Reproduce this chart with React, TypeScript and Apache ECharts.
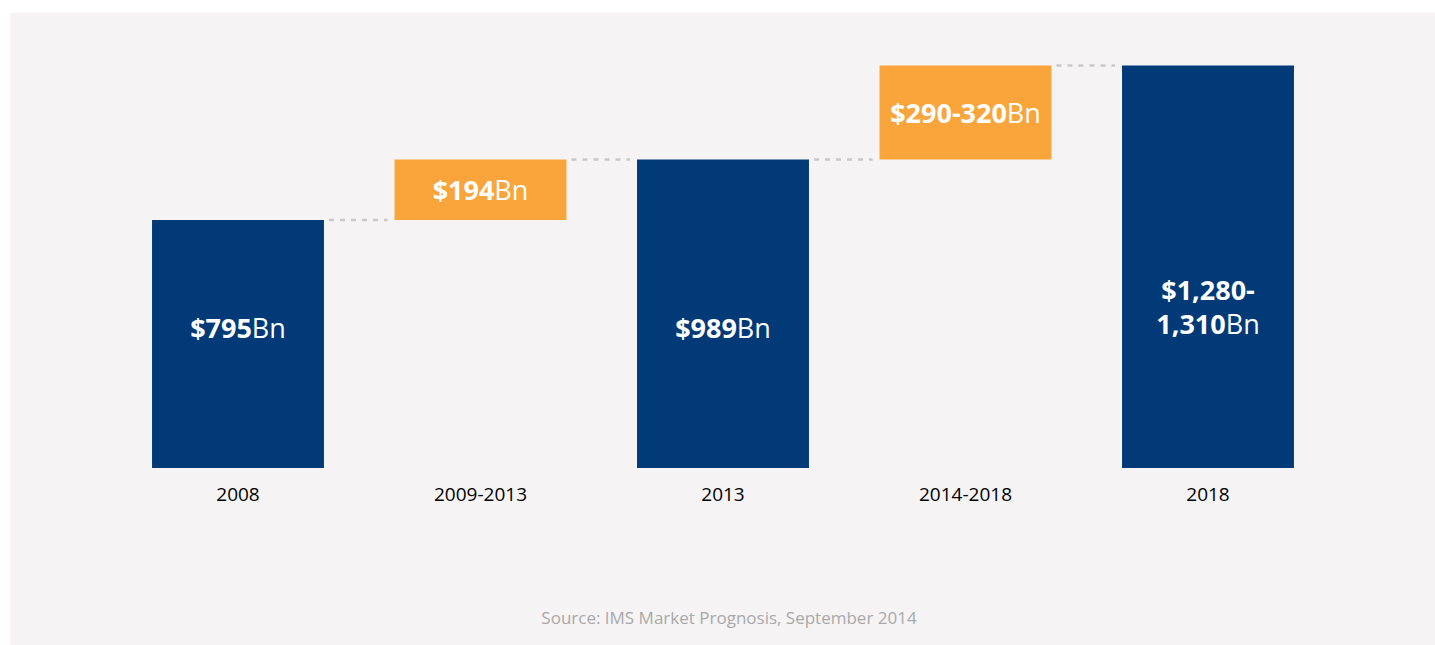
import React, { useEffect, useRef } from "react";
import * as echarts from "echarts";

const categories = ["2008", "2009-2013", "2013", "2014-2018", "2018"];
const baseValues = [0, 795, 0, 989, 0];
const barValues = [795, 194, 989, 301, 1290];
const barKinds = ["total", "change", "total", "change", "total"];
const labelNumbers = ["$795", "$194", "$989", "$290-320", "$1,280-\n1,310"];
const labelUnit = "Bn";
const sourceText = "Source: IMS Market Prognosis, September 2014";

const NAVY = "#023a77";
const ORANGE = "#faa53c";
const BAR_RATIO = 0.709;

function labelFormat(num: string) {
  const lines = num.split("\n");
  return lines
    .map((l, i) => `{b|${l}}` + (i === lines.length - 1 ? `{r|${labelUnit}}` : ""))
    .join("\n");
}

export default function App() {
  const ref = useRef<HTMLDivElement>(null);
  useEffect(() => {
    if (!ref.current) return;
    const chart = echarts.init(ref.current, undefined, { renderer: "svg" });
    const rich = {
      b: { fontFamily: "Open Sans", fontWeight: "bold", fontSize: 27, color: "#fff", lineHeight: 34 },
      r: { fontFamily: "Open Sans", fontWeight: "normal", fontSize: 27, color: "#fff", lineHeight: 34 },
    };
    const connectorData = categories.slice(0, -1).map((_, i) => [i, baseValues[i] + barValues[i]]);
    chart.setOption({
      animation: false,
      backgroundColor: "#ffffff",
      graphic: [
        {
          type: "rect",
          z: -10,
          shape: { x: 10, y: 13, width: 1425, height: 632 },
          style: { fill: "#f5f3f4" },
        },
        {
          type: "text",
          x: 729,
          y: 617,
          style: {
            text: sourceText,
            fontFamily: "Open Sans",
            fontSize: 17,
            fill: "#a9a9a9",
            align: "center",
            verticalAlign: "middle",
          },
        },
      ],
      grid: { left: 116.75, right: 105.75, top: 62.5, bottom: 177, containLabel: false },
      xAxis: {
        type: "category",
        data: categories,
        axisLine: { show: false },
        axisTick: { show: false },
        axisLabel: { color: "#000", fontFamily: "Open Sans", fontSize: 19, margin: 16 },
      },
      yAxis: {
        type: "value",
        min: 0,
        max: 1300,
        show: false,
        splitLine: { show: false },
      },
      series: [
        {
          type: "bar",
          stack: "w",
          barWidth: BAR_RATIO * 100 + "%",
          itemStyle: { color: "transparent" },
          data: baseValues,
          silent: true,
        },
        {
          type: "bar",
          stack: "w",
          barWidth: BAR_RATIO * 100 + "%",
          data: barValues.map((v, i) => ({
            value: v,
            itemStyle: { color: barKinds[i] === "total" ? NAVY : ORANGE },
            label: {
              show: true,
              position: barKinds[i] === "total" ? "insideBottom" : "inside",
              distance: barKinds[i] === "total" ? (labelNumbers[i].includes("\n") ? 128 : 124) : 0,
              formatter: labelFormat(labelNumbers[i]),
              rich,
              align: "center",
            },
          })),
        },
        {
          type: "custom",
          encode: { x: 0, y: 1 },
          data: connectorData,
          z: 1,
          renderItem: (params: any, api: any) => {
            const i = api.value(0);
            const v = api.value(1);
            const p = api.coord([i, v]);
            const band = api.size([1, 0])[0];
            const half = (band * BAR_RATIO) / 2;
            return {
              type: "line",
              shape: { x1: p[0] + half + 5, y1: p[1], x2: p[0] + band - half - 7, y2: p[1] },
              style: { stroke: "#c9c9c9", lineWidth: 2.5, lineDash: [5, 6] },
            };
          },
        },
      ],
    });
    return () => chart.dispose();
  }, []);
  return (
    <div
      ref={ref}
      style={{ position: "absolute", left: 0, top: 0, width: 1435, height: 645 }}
    />
  );
}
